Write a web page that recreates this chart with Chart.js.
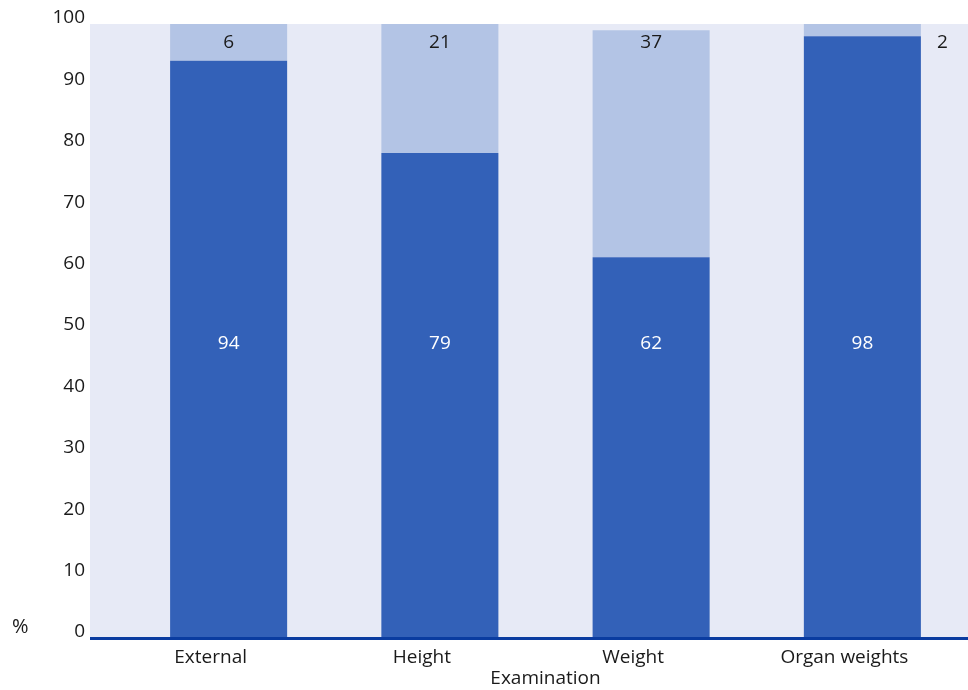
<!DOCTYPE html>
<html>
<head>
<meta charset="utf-8">
<script src="https://cdn.jsdelivr.net/npm/chart.js@4"></script>
<style>
  html, body { margin: 0; padding: 0; background: #fff; overflow: hidden; }
  #wrap { width: 968px; height: 690px; }
</style>
</head>
<body>
<div id="wrap"><canvas id="chart"></canvas></div>
<script>
const categories = ['External', 'Height', 'Weight', 'Organ weights'];
const doneValues = [94, 79, 62, 98];
const notDoneValues = [6, 21, 37, 2];
const yTicks = [0, 10, 20, 30, 40, 50, 60, 70, 80, 90, 100];

const FONT = '"Open Sans", "Noto Sans", sans-serif';
const DARK = '#3361b8';
const LIGHT = '#b3c4e5';
const PLOT_BG = '#e7eaf6';
const AXIS_LINE = '#0a3ca0';
const PLOT_LEFT = 90;

// plot background and baseline reach further left than the bars' category scale
const backdrop = {
  id: 'backdrop',
  beforeDatasetsDraw(chart) {
    const { ctx, chartArea } = chart;
    ctx.save();
    ctx.fillStyle = PLOT_BG;
    ctx.fillRect(PLOT_LEFT, chartArea.top, chartArea.right - PLOT_LEFT, chartArea.bottom - chartArea.top);
    ctx.restore();
  },
  afterDatasetsDraw(chart) {
    const { ctx, chartArea, scales } = chart;
    ctx.save();
    ctx.strokeStyle = AXIS_LINE;
    ctx.lineWidth = 3;
    ctx.beginPath();
    ctx.moveTo(PLOT_LEFT, chartArea.bottom + 0.5);
    ctx.lineTo(chartArea.right, chartArea.bottom + 0.5);
    ctx.stroke();

    // value labels
    ctx.font = '19px ' + FONT;
    ctx.textBaseline = 'middle';
    const y = scales.y;
    chart.getDatasetMeta(0).data.forEach((bar, i) => {
      ctx.fillStyle = '#ffffff';
      ctx.textAlign = 'center';
      ctx.fillText(String(doneValues[i]), bar.x, y.getPixelForValue(48));
    });
    chart.getDatasetMeta(1).data.forEach((bar, i) => {
      ctx.fillStyle = '#1a1a1a';
      const v = notDoneValues[i];
      if (v < 4) {
        ctx.textAlign = 'left';
        ctx.fillText(String(v), bar.x + bar.width / 2 + 16, y.getPixelForValue(97));
      } else {
        ctx.textAlign = 'center';
        ctx.fillText(String(v), bar.x, y.getPixelForValue(97));
      }
    });

    // unit marker beside the zero tick
    ctx.fillStyle = '#1a1a1a';
    ctx.textAlign = 'left';
    ctx.font = '20px ' + FONT;
    ctx.fillText('%', 12, y.getPixelForValue(0) - 11);
    ctx.restore();
  }
};

new Chart(document.getElementById('chart'), {
  type: 'bar',
  data: {
    labels: categories,
    datasets: [
      { label: 'Done', data: doneValues, backgroundColor: DARK },
      { label: 'Not done', data: notDoneValues, backgroundColor: LIGHT }
    ]
  },
  options: {
    responsive: true,
    maintainAspectRatio: false,
    animation: false,
    layout: { padding: { top: 24, right: 0, left: 0, bottom: 0 } },
    datasets: {
      bar: { categoryPercentage: 1, barPercentage: 0.554 }
    },
    plugins: {
      legend: { display: false },
      tooltip: { enabled: false }
    },
    scales: {
      x: {
        stacked: true,
        grid: { display: false, drawTicks: false },
        border: { display: false },
        ticks: { color: '#1a1a1a', font: { family: FONT, size: 19 }, padding: 8, labelOffset: -18 },
        title: {
          display: true,
          text: 'Examination',
          color: '#1a1a1a',
          font: { family: FONT, size: 19 },
          padding: { top: 0, bottom: 0 }
        },
        afterFit(scale) {
          scale.height = 52;
          scale.paddingLeft = 0;
          scale.paddingRight = 0;
        }
      },
      y: {
        stacked: true,
        min: 0,
        max: 100,
        afterBuildTicks(scale) { scale.ticks = yTicks.map(v => ({ value: v })); },
        grid: { display: false, drawTicks: false },
        border: { display: false },
        ticks: { color: '#1a1a1a', font: { family: FONT, size: 19 }, padding: 38, labelOffset: -6 },
        afterFit(scale) {
          scale.width = 123;
          scale.paddingTop = 0;
          scale.paddingBottom = 0;
        }
      }
    }
  },
  plugins: [backdrop]
});
</script>
</body>
</html>
